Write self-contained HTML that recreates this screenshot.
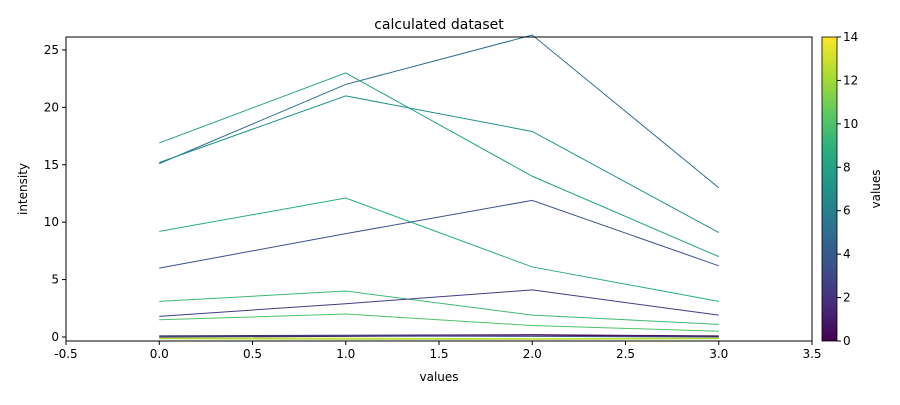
<!DOCTYPE html>
<html><head><meta charset="utf-8"><style>
body{margin:0;background:#fff;font-family:"Liberation Sans","DejaVu Sans",sans-serif;}
svg text{font-family:"DejaVu Sans","Liberation Sans",sans-serif;}
</style></head><body>
<svg id="chart" width="900" height="400" viewBox="0 0 900 400">
<defs>
<linearGradient id="vir" x1="0" y1="1" x2="0" y2="0">
<stop offset="0" stop-color="#440154"/><stop offset="0.125" stop-color="#472d7b"/>
<stop offset="0.25" stop-color="#3b528b"/><stop offset="0.375" stop-color="#2c728e"/>
<stop offset="0.5" stop-color="#21918c"/><stop offset="0.625" stop-color="#28ae80"/>
<stop offset="0.75" stop-color="#5ec962"/><stop offset="0.875" stop-color="#addc30"/>
<stop offset="1" stop-color="#fde725"/></linearGradient>
</defs>
<g id="lines"></g>
<g id="axes"></g>
</svg>
<script>
const xCats=[0,1,2,3];
const seriesValues=[
[15.1,22,26.3,13],[16.9,23,14,7],[15.2,21,17.9,9.1],[9.2,12.1,6.1,3.1],
[6,9,11.9,6.2],[3.1,4,1.9,1.1],[1.8,2.9,4.1,1.9],[1.5,2,1,0.5],
[0.1,0.15,0.2,0.1],[0,0.05,0.1,0.05],[-0.1,-0.1,-0.15,-0.1],[-0.15,-0.2,-0.2,-0.15],[0.05,0.1,0.05,0.0]];
const seriesColorValues=[5,8,7,8.6,3.5,9.4,2.5,10,1,0,13,12,4];
const xTicks=[-0.5,0,0.5,1,1.5,2,2.5,3,3.5];
const yTicks=[0,5,10,15,20,25];
const cTicks=[0,2,4,6,8,10,12,14];
const L=66,R=812,T=37,B=341,xmin=-0.5,xmax=3.5,ymin=-0.35,ymax=26.13;
const xs=v=>L+(v-xmin)/(xmax-xmin)*(R-L);
const ys=v=>B-(v-ymin)/(ymax-ymin)*(B-T);
const stops=["#440154","#472d7b","#3b528b","#2c728e","#21918c","#28ae80","#5ec962","#addc30","#fde725"];
function vir(v){let t=Math.max(0,Math.min(1,v/14))*8,i=Math.min(7,Math.floor(t)),f=t-i;
const a=stops[i],b=stops[i+1];const c=k=>Math.round(parseInt(a.substr(k,2),16)*(1-f)+parseInt(b.substr(k,2),16)*f);
return `rgb(${c(1)},${c(3)},${c(5)})`;}
const NS="http://www.w3.org/2000/svg";
function el(tag,attrs,parent,text){const e=document.createElementNS(NS,tag);for(const k in attrs)e.setAttribute(k,attrs[k]);if(text!==undefined)e.textContent=text;parent.appendChild(e);return e;}
const lg=document.getElementById('lines'),ag=document.getElementById('axes');
seriesValues.forEach((s,i)=>{
 const p=el('polyline',{points:s.map((v,j)=>xs(xCats[j])+','+ys(v)).join(' '),fill:'none',stroke:vir(seriesColorValues[i]),'stroke-width':1},lg);
 
 
});
const fr=el('rect',{x:L,y:T,width:R-L,height:B-T,fill:'none',stroke:'#000','stroke-width':1},ag);


xTicks.forEach(t=>{const x=xs(t);el('line',{x1:x,x2:x,y1:B,y2:B+4,stroke:'#000'},ag);
 const tx=el('text',{x:x,y:B+17,'font-size':12,'text-anchor':'middle'},ag,t.toFixed(1));
 
 });
yTicks.forEach(t=>{const y=ys(t);el('line',{x1:L-4,x2:L,y1:y,y2:y,stroke:'#000'},ag);
 const tx=el('text',{x:L-7,y:y+4,'font-size':12,'text-anchor':'end'},ag,t);
 
 });
const ti=el('text',{x:(L+R)/2,y:29,'font-size':14,'text-anchor':'middle'},ag,'calculated dataset');

const xl=el('text',{x:(L+R)/2,y:381,'font-size':12,'text-anchor':'middle'},ag,'values');

const yl=el('text',{x:0,y:0,'font-size':12,'text-anchor':'middle',transform:`translate(27,${(T+B)/2}) rotate(-90)`},ag,'intensity');

const cb=el('rect',{x:822,y:T,width:15,height:B-T,fill:'url(#vir)',stroke:'#000','stroke-width':0.8},ag);

cTicks.forEach(t=>{const y=B-t/14*(B-T);el('line',{x1:837,x2:841,y1:y,y2:y,stroke:'#000'},ag);
 const tx=el('text',{x:843,y:y+4,'font-size':12},ag,t);
 });
const cl=el('text',{x:0,y:0,'font-size':12,'text-anchor':'middle',transform:`translate(880,${(T+B)/2}) rotate(-90)`},ag,'values');

</script>
</body></html>
